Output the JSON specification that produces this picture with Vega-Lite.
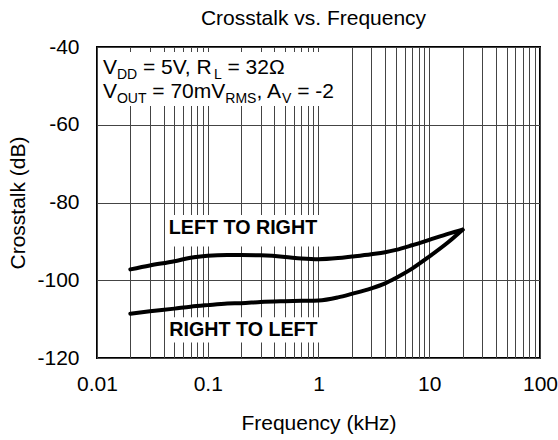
{
  "$schema": "https://vega.github.io/schema/vega-lite/v6.json",
  "width": 443,
  "height": 311,
  "autosize": {"type": "none"},
  "padding": {"left": 97, "top": 47, "right": 18, "bottom": 82},
  "background": "white",
  "title": {"text": "Crosstalk vs. Frequency", "fontSize": 21, "font": "Liberation Sans", "fontWeight": "normal", "color": "#000", "baseline": "alphabetic", "offset": -10, "dx": -5, "anchor": "middle", "frame": "group"},
  "config": {
    "view": {"stroke": "#000", "strokeWidth": 2},
    "font": "Liberation Sans",
    "text": {"font": "Liberation Sans", "color": "#000"}
  },
  "data": {"values": [
    {"series": "LEFT TO RIGHT", "freq": 0.02, "db": -97.2},
    {"series": "LEFT TO RIGHT", "freq": 0.03, "db": -96.2},
    {"series": "LEFT TO RIGHT", "freq": 0.05, "db": -95.1},
    {"series": "LEFT TO RIGHT", "freq": 0.07, "db": -94.2},
    {"series": "LEFT TO RIGHT", "freq": 0.1, "db": -93.7},
    {"series": "LEFT TO RIGHT", "freq": 0.15, "db": -93.5},
    {"series": "LEFT TO RIGHT", "freq": 0.2, "db": -93.5},
    {"series": "LEFT TO RIGHT", "freq": 0.3, "db": -93.6},
    {"series": "LEFT TO RIGHT", "freq": 0.5, "db": -94.0},
    {"series": "LEFT TO RIGHT", "freq": 0.7, "db": -94.4},
    {"series": "LEFT TO RIGHT", "freq": 1, "db": -94.6},
    {"series": "LEFT TO RIGHT", "freq": 1.5, "db": -94.3},
    {"series": "LEFT TO RIGHT", "freq": 2, "db": -93.9},
    {"series": "LEFT TO RIGHT", "freq": 3, "db": -93.3},
    {"series": "LEFT TO RIGHT", "freq": 4, "db": -92.8},
    {"series": "LEFT TO RIGHT", "freq": 5, "db": -92.2},
    {"series": "LEFT TO RIGHT", "freq": 7, "db": -91.0},
    {"series": "LEFT TO RIGHT", "freq": 10, "db": -89.6},
    {"series": "LEFT TO RIGHT", "freq": 15, "db": -88.0},
    {"series": "LEFT TO RIGHT", "freq": 20, "db": -87.0},
    {"series": "RIGHT TO LEFT", "freq": 0.02, "db": -108.6},
    {"series": "RIGHT TO LEFT", "freq": 0.03, "db": -108.0},
    {"series": "RIGHT TO LEFT", "freq": 0.05, "db": -107.3},
    {"series": "RIGHT TO LEFT", "freq": 0.07, "db": -106.8},
    {"series": "RIGHT TO LEFT", "freq": 0.1, "db": -106.4},
    {"series": "RIGHT TO LEFT", "freq": 0.15, "db": -106.0},
    {"series": "RIGHT TO LEFT", "freq": 0.2, "db": -105.9},
    {"series": "RIGHT TO LEFT", "freq": 0.3, "db": -105.6},
    {"series": "RIGHT TO LEFT", "freq": 0.5, "db": -105.4},
    {"series": "RIGHT TO LEFT", "freq": 0.7, "db": -105.3},
    {"series": "RIGHT TO LEFT", "freq": 1, "db": -105.2},
    {"series": "RIGHT TO LEFT", "freq": 1.5, "db": -104.4},
    {"series": "RIGHT TO LEFT", "freq": 2, "db": -103.5},
    {"series": "RIGHT TO LEFT", "freq": 3, "db": -102.1},
    {"series": "RIGHT TO LEFT", "freq": 4, "db": -100.8},
    {"series": "RIGHT TO LEFT", "freq": 5, "db": -99.4},
    {"series": "RIGHT TO LEFT", "freq": 7, "db": -97.0},
    {"series": "RIGHT TO LEFT", "freq": 10, "db": -93.9},
    {"series": "RIGHT TO LEFT", "freq": 15, "db": -90.1},
    {"series": "RIGHT TO LEFT", "freq": 20, "db": -87.0}
  ]},
  "layer": [
    {
      "mark": {"type": "line", "strokeWidth": 4, "strokeCap": "round", "strokeJoin": "round", "interpolate": "monotone"},
      "encoding": {
        "x": {"field": "freq", "type": "quantitative",
          "scale": {"type": "log", "domain": [0.01, 100], "nice": false},
          "axis": {
            "values": [0.01,0.02,0.03,0.04,0.05,0.06,0.07,0.08,0.09,0.1,0.2,0.3,0.4,0.5,0.6,0.7,0.8,0.9,1,2,3,4,5,6,7,8,9,10,20,30,40,50,60,70,80,90,100],
            "grid": true, "gridColor": "#444", "gridWidth": 1, "gridOpacity": 1,
            "ticks": false, "domain": false,
            "labelExpr": "indexof([0.01,0.1,1,10,100], datum.value) >= 0 ? format(datum.value, '~g') : ''",
            "labelFontSize": 21, "labelColor": "#000", "labelPadding": 15, "labelFlush": false, "labelOverlap": false, "labelFont": "Liberation Sans",
            "title": "Frequency (kHz)", "titleFontSize": 21, "titleFontWeight": "normal", "titleColor": "#000", "titlePadding": 18, "titleFont": "Liberation Sans"
          }
        },
        "y": {"field": "db", "type": "quantitative",
          "scale": {"domain": [-120, -40], "nice": false, "zero": false},
          "axis": {
            "values": [-120, -100, -80, -60, -40],
            "grid": true, "gridColor": "#444", "gridWidth": 1, "gridOpacity": 1,
            "ticks": false, "domain": false,
            "labelExpr": "replace(datum.label, '\u2212', '-')",
            "labelFontSize": 21, "labelColor": "#000", "labelPadding": 18, "labelFlush": false, "labelFont": "Liberation Sans",
            "title": "Crosstalk (dB)", "titleFontSize": 21, "titleFontWeight": "normal", "titleColor": "#000", "titlePadding": 8.5, "titleFont": "Liberation Sans"
          }
        },
        "color": {"field": "series", "type": "nominal", "scale": {"range": ["#000", "#000"]}, "legend": null}
      }
    },
    {
      "data": {"values": [{}]},
      "mark": {"type": "rect", "fill": "white", "stroke": null},
      "encoding": {"x": {"datum": 0.0104}, "x2": {"datum": 1.5}, "y": {"datum": -41.3}, "y2": {"datum": -55.2}}
    },
    {
      "data": {"values": [{}]},
      "mark": {"type": "rect", "fill": "white", "stroke": null},
      "encoding": {"x": {"datum": 0.043}, "x2": {"datum": 1.08}, "y": {"datum": -83.2}, "y2": {"datum": -91.3}}
    },
    {
      "data": {"values": [{}]},
      "mark": {"type": "rect", "fill": "white", "stroke": null},
      "encoding": {"x": {"datum": 0.0438}, "x2": {"datum": 1.08}, "y": {"datum": -109.5}, "y2": {"datum": -116.0}}
    },
    {
      "data": {"values": [{}]},
      "mark": {"type": "text", "fontSize": 19.7, "fontWeight": "bold", "align": "center", "baseline": "middle"},
      "encoding": {"x": {"datum": 0.208}, "y": {"datum": -86.5}, "text": {"value": "LEFT TO RIGHT"}}
    },
    {
      "data": {"values": [{}]},
      "mark": {"type": "text", "fontSize": 19.7, "fontWeight": "bold", "align": "center", "baseline": "middle"},
      "encoding": {"x": {"datum": 0.21}, "y": {"datum": -112.7}, "text": {"value": "RIGHT TO LEFT"}}
    },
    {
      "data": {"values": [{}]},
      "mark": {"type": "text", "fontSize": 21, "align": "left", "baseline": "alphabetic", "dx": 0},
      "encoding": {"x": {"datum": 0.0113}, "y": {"datum": -46.9}, "text": {"value": "V"}}
    },
    {
      "data": {"values": [{}]},
      "mark": {"type": "text", "fontSize": 14, "align": "left", "baseline": "alphabetic", "dx": 14, "dy": 5},
      "encoding": {"x": {"datum": 0.0113}, "y": {"datum": -46.9}, "text": {"value": "DD"}}
    },
    {
      "data": {"values": [{}]},
      "mark": {"type": "text", "fontSize": 21, "align": "left", "baseline": "alphabetic", "dx": 40.0},
      "encoding": {"x": {"datum": 0.0113}, "y": {"datum": -46.9}, "text": {"value": "= 5V, R"}}
    },
    {
      "data": {"values": [{}]},
      "mark": {"type": "text", "fontSize": 14, "align": "left", "baseline": "alphabetic", "dx": 111.2, "dy": 5},
      "encoding": {"x": {"datum": 0.0113}, "y": {"datum": -46.9}, "text": {"value": "L"}}
    },
    {
      "data": {"values": [{}]},
      "mark": {"type": "text", "fontSize": 21, "align": "left", "baseline": "alphabetic", "dx": 124.6},
      "encoding": {"x": {"datum": 0.0113}, "y": {"datum": -46.9}, "text": {"value": "= 32Ω"}}
    },
    {
      "data": {"values": [{}]},
      "mark": {"type": "text", "fontSize": 21, "align": "left", "baseline": "alphabetic", "dx": 0},
      "encoding": {"x": {"datum": 0.0113}, "y": {"datum": -53.1}, "text": {"value": "V"}}
    },
    {
      "data": {"values": [{}]},
      "mark": {"type": "text", "fontSize": 14, "align": "left", "baseline": "alphabetic", "dx": 14, "dy": 5},
      "encoding": {"x": {"datum": 0.0113}, "y": {"datum": -53.1}, "text": {"value": "OUT"}}
    },
    {
      "data": {"values": [{}]},
      "mark": {"type": "text", "fontSize": 21, "align": "left", "baseline": "alphabetic", "dx": 49.4},
      "encoding": {"x": {"datum": 0.0113}, "y": {"datum": -53.1}, "text": {"value": "= 70mV"}}
    },
    {
      "data": {"values": [{}]},
      "mark": {"type": "text", "fontSize": 14, "align": "left", "baseline": "alphabetic", "dx": 122.4, "dy": 5},
      "encoding": {"x": {"datum": 0.0113}, "y": {"datum": -53.1}, "text": {"value": "RMS"}}
    },
    {
      "data": {"values": [{}]},
      "mark": {"type": "text", "fontSize": 21, "align": "left", "baseline": "alphabetic", "dx": 153.5},
      "encoding": {"x": {"datum": 0.0113}, "y": {"datum": -53.1}, "text": {"value": ", A"}}
    },
    {
      "data": {"values": [{}]},
      "mark": {"type": "text", "fontSize": 14, "align": "left", "baseline": "alphabetic", "dx": 179.2, "dy": 5},
      "encoding": {"x": {"datum": 0.0113}, "y": {"datum": -53.1}, "text": {"value": "V"}}
    },
    {
      "data": {"values": [{}]},
      "mark": {"type": "text", "fontSize": 21, "align": "left", "baseline": "alphabetic", "dx": 194.3},
      "encoding": {"x": {"datum": 0.0113}, "y": {"datum": -53.1}, "text": {"value": "= -2"}}
    }
  ]
}
